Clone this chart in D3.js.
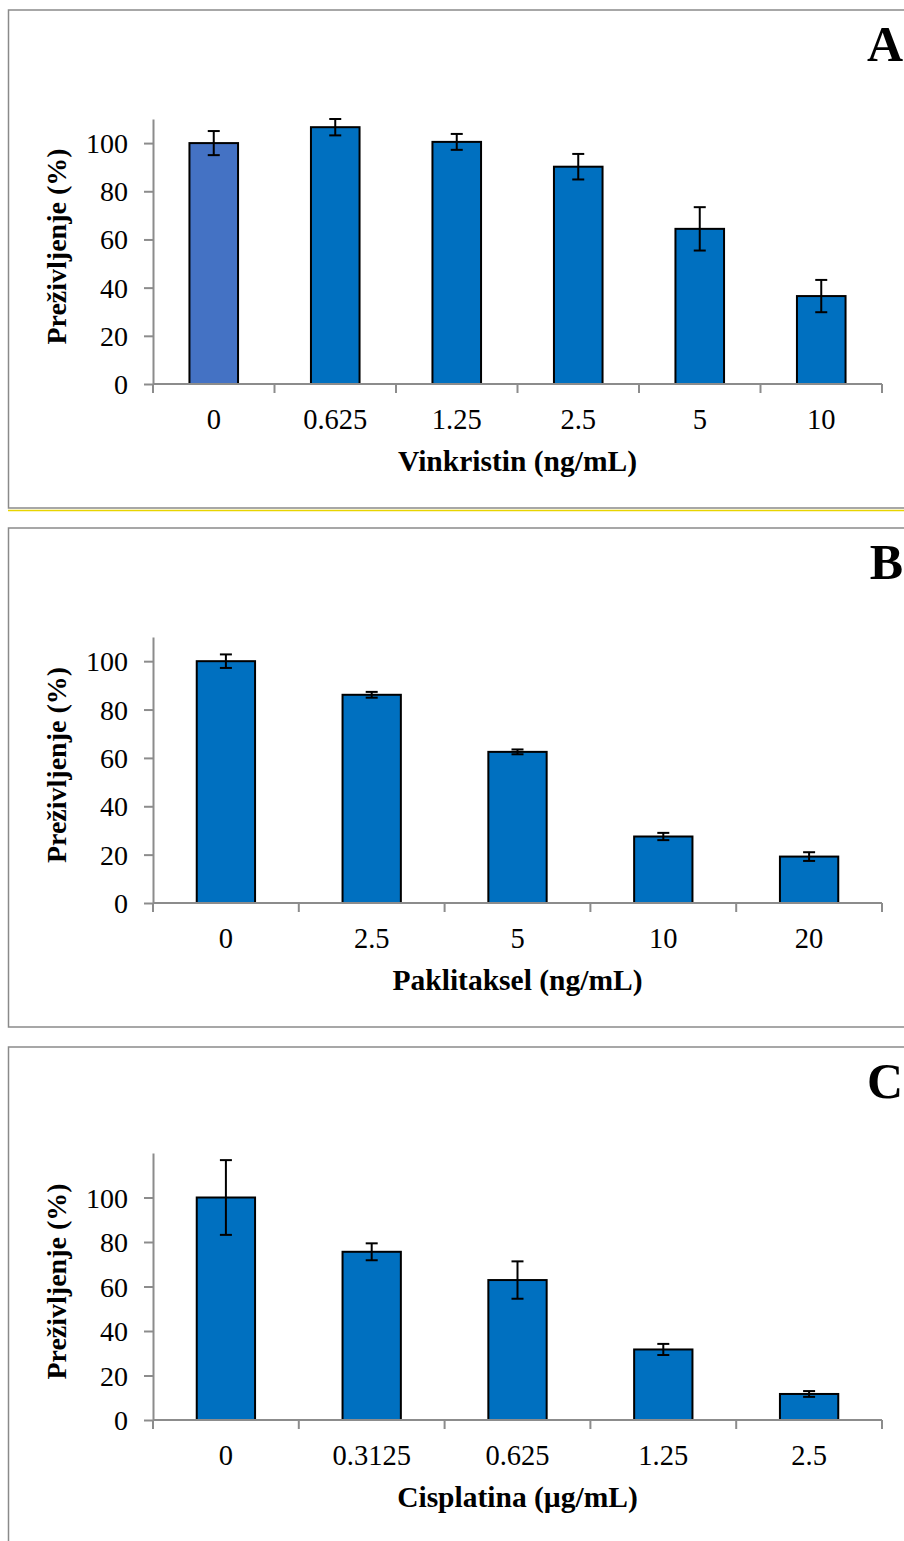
<!DOCTYPE html>
<html><head><meta charset="utf-8">
<script src="https://cdn.jsdelivr.net/npm/d3@7"></script>
<style>
html,body{margin:0;padding:0;background:#fff;}
svg{display:block;}
</style></head>
<body>
<svg id="chart" width="904" height="1541"></svg>
<script>
// ---- data ----
const catsA = ["0","0.625","1.25","2.5","5","10"];
const valsA = [100, 106.6, 100.5, 90.2, 64.4, 36.5];
const errA  = [5.0, 3.4, 3.3, 5.3, 9.0, 6.7];

const catsB = ["0","2.5","5","10","20"];
const valsB = [100, 86.1, 62.5, 27.5, 19.2];
const errB  = [2.8, 1.2, 1.0, 1.5, 1.8];

const catsC = ["0","0.3125","0.625","1.25","2.5"];
const valsC = [100, 75.6, 62.9, 31.7, 11.7];
const errC  = [16.8, 3.8, 8.4, 2.5, 1.3];

const yTicks = [0, 20, 40, 60, 80, 100];
const yTitle = "Preživljenje (%)";
const xTitles = ["Vinkristin (ng/mL)", "Paklitaksel (ng/mL)", "Cisplatina (µg/mL)"];
const panelLetters = ["A", "B", "C"];
const yMaxes = [110, 110, 120];

// ---- layout ----
const FONT = "'Liberation Serif', Tinos, 'Times New Roman', Times, serif";
const svg = d3.select("#chart").attr("font-family", FONT);
const panels = [
  {top:10, bottom:508, plotTop:119, plotBottom:384, cats:catsA, vals:valsA, errs:errA, firstColor:"#4472C4"},
  {top:528, bottom:1027, plotTop:637, plotBottom:903, cats:catsB, vals:valsB, errs:errB, firstColor:null},
  {top:1047, bottom:1600, plotTop:1153, plotBottom:1420, cats:catsC, vals:valsC, errs:errC, firstColor:null}
];
const plotLeft = 153, plotRight = 882;
const axisColor = "#8c8c8c";

// yellow separator under panel A
svg.append("line").attr("x1",8).attr("x2",904).attr("y1",510.5).attr("y2",510.5)
  .attr("stroke","#e8d400").attr("stroke-width",1.5);

panels.forEach((p, i) => {
  const g = svg.append("g");
  g.append("rect").attr("x",8.5).attr("y",p.top).attr("width",910).attr("height",p.bottom-p.top)
    .attr("fill","none").attr("stroke","#8a8a8a").attr("stroke-width",1.5);

  const x = d3.scaleBand().domain(p.cats).range([plotLeft, plotRight])
    .paddingInner(0.6).paddingOuter(0.3);
  const y = d3.scaleLinear().domain([0, yMaxes[i]]).range([p.plotBottom, p.plotTop]);
  const data = p.cats.map((c, k) => ({c, v:p.vals[k], e:p.errs[k], k}));

  g.selectAll("rect.bar").data(data).enter().append("rect")
    .attr("class","bar")
    .attr("x", d => x(d.c)).attr("width", x.bandwidth())
    .attr("y", d => y(d.v)).attr("height", d => y(0) - y(d.v))
    .attr("fill", d => (d.k === 0 && p.firstColor) ? p.firstColor : "#0070C0")
    .attr("stroke","#000").attr("stroke-width",2);

  const yAxis = d3.axisLeft(y).tickValues(yTicks).tickSize(9).tickSizeOuter(0).tickPadding(16);
  const ya = g.append("g").attr("transform",`translate(${plotLeft},0)`).call(yAxis)
    .attr("font-family", FONT).attr("font-size", 28);
  ya.select(".domain").attr("stroke",axisColor).attr("stroke-width",2);
  ya.selectAll(".tick line").attr("stroke",axisColor).attr("stroke-width",2);
  ya.selectAll(".tick text").attr("fill","#000").attr("dy","0.34em");

  const step = x.step();
  const bounds = d3.range(p.cats.length + 1).map(k => plotLeft + k*step);
  g.append("line").attr("x1",plotLeft).attr("x2",plotRight)
    .attr("y1",y(0)).attr("y2",y(0)).attr("stroke",axisColor).attr("stroke-width",2);
  g.selectAll("line.xt").data(bounds).enter().append("line").attr("class","xt")
    .attr("x1",d=>d).attr("x2",d=>d).attr("y1",y(0)).attr("y2",y(0)+9)
    .attr("stroke",axisColor).attr("stroke-width",2);
  g.selectAll("text.xl").data(p.cats).enter().append("text").attr("class","xl")
    .attr("x", d => x(d) + x.bandwidth()/2).attr("y", y(0) + 45)
    .attr("text-anchor","middle").attr("font-size",28.5).text(d=>d);

  const cap = 6;
  const eb = g.selectAll("g.err").data(data).enter().append("g").attr("class","err");
  const cx = d => x(d.c) + x.bandwidth()/2;
  eb.append("line").attr("x1",cx).attr("x2",cx)
    .attr("y1",d=>y(d.v+d.e)).attr("y2",d=>y(d.v-d.e)).attr("stroke","#000").attr("stroke-width",2);
  eb.append("line").attr("x1",d=>cx(d)-cap).attr("x2",d=>cx(d)+cap)
    .attr("y1",d=>y(d.v+d.e)).attr("y2",d=>y(d.v+d.e)).attr("stroke","#000").attr("stroke-width",2);
  eb.append("line").attr("x1",d=>cx(d)-cap).attr("x2",d=>cx(d)+cap)
    .attr("y1",d=>y(d.v-d.e)).attr("y2",d=>y(d.v-d.e)).attr("stroke","#000").attr("stroke-width",2);

  g.append("text").attr("x",(plotLeft+plotRight)/2).attr("y",y(0)+87)
    .attr("text-anchor","middle").attr("font-size",29.5).attr("font-weight","bold").text(xTitles[i]);

  const cy = (p.plotTop + p.plotBottom)/2 - 5;
  g.append("text").attr("transform",`translate(66,${cy}) rotate(-90)`)
    .attr("text-anchor","middle").attr("font-size",28).attr("font-weight","bold").text(yTitle);

  g.append("text").attr("x",903).attr("y",p.top+51).attr("text-anchor","end")
    .attr("font-size",50).attr("font-weight","bold").text(panelLetters[i]);
});
</script>
</body></html>
